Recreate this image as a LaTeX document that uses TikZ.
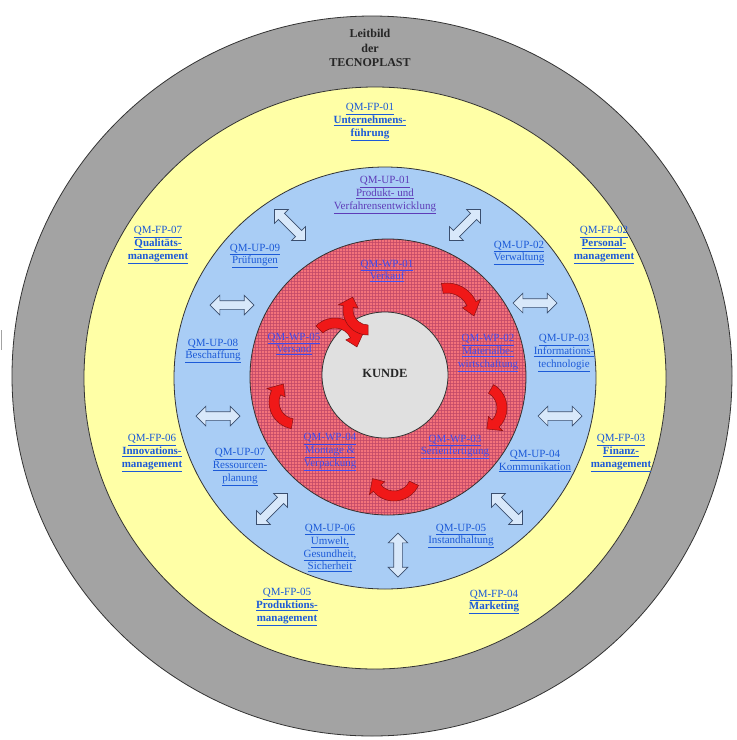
\documentclass[tikz,border=0pt]{standalone}
\usepackage{fontspec}
\setmainfont{Liberation Serif}
\usetikzlibrary{shapes.arrows}
\usetikzlibrary{patterns}
\usetikzlibrary{calc}
\definecolor{ringgray}{HTML}{A3A3A3}
\definecolor{ringyellow}{HTML}{FFFFA6}
\definecolor{ringblue}{HTML}{A9CDF5}
\definecolor{ringred}{HTML}{F4737A}
\definecolor{gridred}{HTML}{C04868}
\definecolor{kundegray}{HTML}{E0E0E0}
\definecolor{linkblue}{HTML}{1C5AD8}
\definecolor{linkpurple}{HTML}{5E3CB8}
\definecolor{wpblue}{HTML}{3F4CF0}
\definecolor{arrowline}{HTML}{3A4E6E}
\definecolor{flowred}{HTML}{F01818}
\definecolor{flowline}{HTML}{8A1010}
\newcommand\lk[1]{\underline{#1}}
\newcommand\lb[1]{\underline{\bfseries #1}}
% curved block arrow: centre, tail angle, head angle, tip angle, radius
\newcommand\bendarrow[5]{%
  \filldraw[flowarrow]
    ($#1+(#2:#5+5)$) arc[start angle=#2, end angle=#3, radius=#5+5]
    -- ($#1+(#3:#5+10)$) -- ($#1+(#4:#5)$) -- ($#1+(#3:#5-10)$)
    -- ($#1+(#3:#5-5)$) arc[start angle=#3, end angle=#2, radius=#5-5]
    -- cycle;}
\tikzset{%
  ring/.style={draw=black!80, line width=0.8pt},
  fplabel/.style={
    align=center,
    text=linkblue,
    inner sep=0pt,
    font=\fontsize{11}{12.8}\selectfont
  },
  uplabel/.style={fplabel},
  wplabel/.style={
    align=center,
    text=wpblue,
    inner sep=0pt,
    font=\fontsize{11}{12.8}\selectfont
  },
  swaparrow/.style={
    double arrow,
    draw=arrowline,
    fill=ringblue!45!white,
    line width=0.7pt,
    minimum height=44pt,
    text height=8pt,
    text depth=0pt,
    text width=0pt,
    double arrow head extend=5.5pt,
    inner sep=0pt
  },
  flowarrow/.style={fill=flowred, draw=flowline, line width=0.5pt},
}

\begin{document}
\begin{tikzpicture}[x=1pt,y=-1pt]
    \useasboundingbox (0,0) rectangle (737,740);

    % rings
    \filldraw[ring, fill=ringgray]   (372,376) circle[radius=360];
    \filldraw[ring, fill=ringyellow] (375,378) circle[radius=291];
    \filldraw[ring, fill=ringblue]   (385,378) circle[radius=211];
    \fill[ringred] (388,377) circle[radius=138];
    \fill[pattern=grid, pattern color=gridred, opacity=0.75] (388,377) circle[radius=138];
    \draw[ring] (388,377) circle[radius=138];
    \filldraw[ring, fill=kundegray]  (385,375) circle[radius=63];
    \draw[ringgray, line width=1pt] (1.5,330) -- (1.5,350);

    % flow in the red ring
    \bendarrow{(447,315)}{-100}{-25}{2}{27}
    \bendarrow{(480,408)}{-60}{45}{72}{22}
    \bendarrow{(394,474)}{25}{140}{168}{22}
    \bendarrow{(296,402)}{100}{205}{235}{22}
    \bendarrow{(335,345)}{-135}{-25}{5}{22}
    \bendarrow{(368,310)}{90}{190}{220}{20}

    % exchange arrows in the blue ring
    \node (s1) [swaparrow, rotate=-45] at (290,225) {};
    \node (s2) [swaparrow, rotate=45]  at (465,225) {};
    \node (s3) [swaparrow] at (535,303) {};
    \node (s4) [swaparrow] at (560,416) {};
    \node (s5) [swaparrow, rotate=-45] at (507,509) {};
    \node (s6) [swaparrow, rotate=90]  at (398,555) {};
    \node (s7) [swaparrow, rotate=45]  at (272,509) {};
    \node (s8) [swaparrow] at (218,416) {};
    \node (s9) [swaparrow] at (232,305) {};

    % texts
    \node (leit) [align=center, inner sep=0pt, text=black!85,
      font=\fontsize{12}{14.5}\selectfont\bfseries] at (370,48)
      {Leitbild\\der\\TECNOPLAST};
    \node (kunde) [inner sep=0pt, text=black!85,
      font=\fontsize{12.5}{14}\selectfont\bfseries] at (385,373) {KUNDE};

    \node (fp1) [fplabel] at (370,122) {\lk{QM-FP-01}\\\lb{Unternehmens-}\\\lb{führung}};
    \node (fp2) [fplabel] at (604,245) {\lk{QM-FP-02}\\\lb{Personal-}\\\lb{management}};
    \node (fp3) [fplabel] at (621,453) {\lk{QM-FP-03}\\\lb{Finanz-}\\\lb{management}};
    \node (fp4) [fplabel] at (494,602) {\lk{QM-FP-04}\\\lb{Marketing}};
    \node (fp5) [fplabel] at (287,607) {\lk{QM-FP-05}\\\lb{Produktions-}\\\lb{management}};
    \node (fp6) [fplabel] at (152,453) {\lk{QM-FP-06}\\\lb{Innovations-}\\\lb{management}};
    \node (fp7) [fplabel] at (158,245) {\lk{QM-FP-07}\\\lb{Qualitäts-}\\\lb{management}};

    \node (up1) [uplabel, text=linkpurple] at (385,195)
      {\lk{QM-UP-01}\\\lk{Produkt- und}\\\lk{Verfahrensentwicklung}};
    \node (up2) [uplabel] at (519,253) {\lk{QM-UP-02}\\\lk{Verwaltung}};
    \node (up3) [uplabel] at (564,353) {\lk{QM-UP-03}\\\lk{Informations-}\\\lk{technologie}};
    \node (up4) [uplabel] at (535,461) {\lk{QM-UP-04}\\\lk{Kommunikation}};
    \node (up5) [uplabel] at (461,536) {\lk{QM-UP-05}\\\lk{Instandhaltung}};
    \node (up6) [uplabel] at (330,548) {\lk{QM-UP-06}\\\lk{Umwelt,}\\\lk{Gesundheit,}\\\lk{Sicherheit}};
    \node (up7) [uplabel] at (240,467) {\lk{QM-UP-07}\\\lk{Ressourcen-}\\\lk{planung}};
    \node (up8) [uplabel] at (213,351) {\lk{QM-UP-08}\\\lk{Beschaffung}};
    \node (up9) [uplabel] at (255,256) {\lk{QM-UP-09}\\\lk{Prüfungen}};

    \node (wp1) [wplabel] at (387,271) {\lk{QM-WP-01}\\\lk{Verkauf}};
    \node (wp2) [wplabel] at (488,353) {\lk{QM-WP-02}\\\lk{Materialbe-}\\\lk{wirtschaftung}};
    \node (wp3) [wplabel] at (455,447) {\lk{QM-WP-03}\\\lk{Serienfertigung}};
    \node (wp4) [wplabel] at (330,452) {\lk{QM-WP-04}\\\lk{Montage \&}\\\lk{Verpackung}};
    \node (wp5) [wplabel] at (294,344) {\lk{QM-WP-05}\\\lk{Versand}};
\end{tikzpicture}
\end{document}
